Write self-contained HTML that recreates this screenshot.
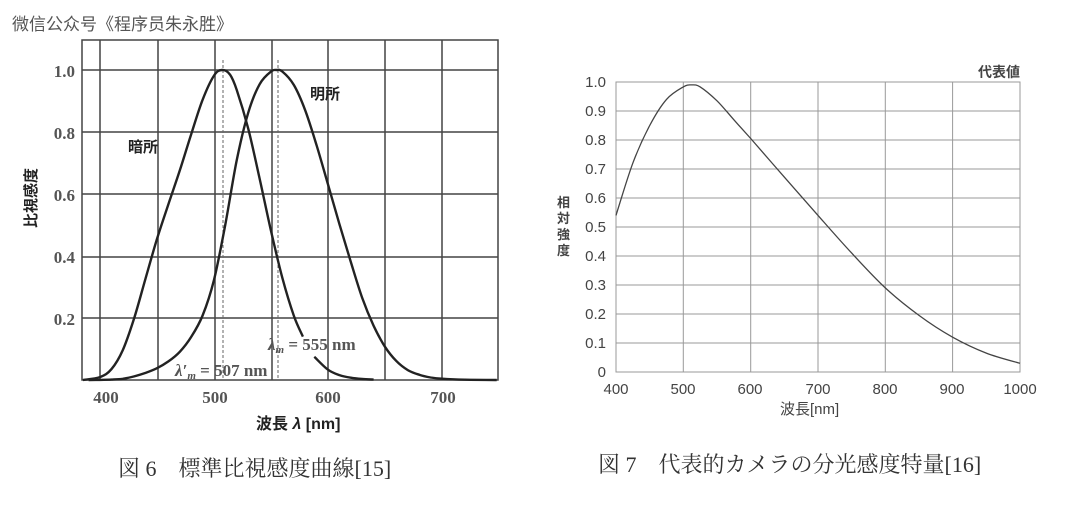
<!DOCTYPE html>
<html><head><meta charset="utf-8"><style>
body{margin:0;width:1080px;height:509px;background:#fff;overflow:hidden;position:relative;font-family:"Liberation Sans","Noto Sans CJK JP",sans-serif}
.t{position:absolute;white-space:nowrap}
</style></head><body>
<div class="t" style="left:12px;top:10px;font-size:17px;color:#555;font-family:'Noto Sans CJK SC',sans-serif">微信公众号《程序员朱永胜》</div>
<svg width="1080" height="509" style="position:absolute;left:0;top:0">
<g id="L" fill="none" stroke="#333" stroke-width="1.6"></g>
<g id="R" fill="none" stroke="#999" stroke-width="1"></g>
<g font-family="Liberation Serif,serif" font-weight="bold" font-size="17" fill="#555" text-anchor="end">
<text x="75" y="77">1.0</text><text x="75" y="139">0.8</text><text x="75" y="201">0.6</text><text x="75" y="263">0.4</text><text x="75" y="325">0.2</text>
</g>
<g font-family="Liberation Serif,serif" font-weight="bold" font-size="17" fill="#555" text-anchor="middle">
<text x="106" y="403">400</text><text x="215" y="403">500</text><text x="328" y="403">600</text><text x="443" y="403">700</text>
</g>
<text x="268" y="350" font-family="Liberation Serif,serif" font-size="17" fill="#555" font-weight="bold" font-style="italic">λ<tspan font-size="11" dy="3">m</tspan><tspan dy="-3" font-style="normal"> = 555 nm</tspan></text>
<text x="175" y="376" font-family="Liberation Serif,serif" font-size="17" fill="#555" font-weight="bold" font-style="italic">λ′<tspan font-size="11" dy="3">m</tspan><tspan dy="-3" font-style="normal"> = 507 nm</tspan></text>
<text transform="translate(36,198) rotate(-90)" text-anchor="middle" font-size="15" font-weight="bold" fill="#222" font-family="Liberation Sans,Noto Sans CJK JP,sans-serif">比視感度</text>
<g font-family="Liberation Sans,sans-serif" font-size="15" fill="#444" text-anchor="end">
<text x="606" y="87">1.0</text><text x="606" y="116">0.9</text><text x="606" y="145">0.8</text><text x="606" y="174">0.7</text><text x="606" y="203">0.6</text><text x="606" y="232">0.5</text><text x="606" y="261">0.4</text><text x="606" y="290">0.3</text><text x="606" y="319">0.2</text><text x="606" y="348">0.1</text><text x="606" y="377">0</text>
</g>
<g font-family="Liberation Sans,sans-serif" font-size="15" fill="#444" text-anchor="middle">
<text x="616" y="394">400</text><text x="683" y="394">500</text><text x="750" y="394">600</text><text x="818" y="394">700</text><text x="885" y="394">800</text><text x="952" y="394">900</text><text x="1020" y="394">1000</text>
</g>
</svg>
<div class="t" style="left:128px;top:136px;font-size:15px;font-weight:bold;color:#222">暗所</div>
<div class="t" style="left:310px;top:83px;font-size:15px;font-weight:bold;color:#222">明所</div>
<div class="t" style="left:256px;top:410px;font-size:16px;font-weight:bold;color:#222">波長 <i>λ</i> [nm]</div>
<div class="t" style="left:557px;top:195px;font-size:13px;font-weight:bold;color:#444;width:14px;white-space:normal;line-height:16px">相対強度</div>
<div class="t" style="left:978px;top:62px;font-size:14px;font-weight:bold;color:#444">代表値</div>
<div class="t" style="left:780px;top:398px;font-size:15px;color:#444">波長[nm]</div>
<div class="t" style="left:118px;top:452px;font-size:22px;color:#333;font-family:'Liberation Serif','Noto Serif CJK SC',serif">図 6　標準比視感度曲線[15]</div>
<div class="t" style="left:598px;top:448px;font-size:22px;color:#333;font-family:'Liberation Serif','Noto Serif CJK SC',serif">図 7　代表的カメラの分光感度特量[16]</div>
<script>
var NS='http://www.w3.org/2000/svg';
var L=document.getElementById('L'),R=document.getElementById('R');
function ln(g,a){var p=document.createElementNS(NS,'path');for(var k in a)p.setAttribute(k,a[k]);g.appendChild(p);}
function cr(P){var s='M'+P[0][0].toFixed(1)+' '+P[0][1].toFixed(1);for(var i=0;i<P.length-1;i++){var p0=P[i-1]||P[i],p1=P[i],p2=P[i+1],p3=P[i+2]||p2;
s+='C'+(p1[0]+(p2[0]-p0[0])/6).toFixed(1)+' '+(p1[1]+(p2[1]-p0[1])/6).toFixed(1)+' '+(p2[0]-(p3[0]-p1[0])/6).toFixed(1)+' '+(p2[1]-(p3[1]-p1[1])/6).toFixed(1)+' '+p2[0].toFixed(1)+' '+p2[1].toFixed(1);}return s;}
var d='M82 40H498V380H82Z';
[100,158,215,272,328,385,442].forEach(function(x){d+='M'+x+' 40V380';});
[70,132,194,257,318].forEach(function(y){d+='M82 '+y+'H498';});
ln(L,{d:d,'stroke-width':1.5,stroke:'#444'});
ln(L,{d:'M223 60V380M278 60V380','stroke-dasharray':'3 2','stroke-width':1,stroke:'#666'});
function X(w){return 100+(w-400)*1.14;}function Y(v){return 380-v*310;}
var ph=[[390,0],[400,.0004],[410,.0012],[420,.004],[430,.0116],[440,.023],[450,.038],[460,.06],[470,.091],[480,.139],[490,.208],[500,.323],[510,.503],[520,.71],[530,.862],[540,.954],[550,.995],[555,1],[560,.995],[570,.952],[580,.87],[590,.757],[600,.631],[610,.503],[620,.381],[630,.265],[640,.175],[650,.107],[660,.061],[670,.032],[680,.017],[690,.0082],[700,.0041],[720,.001],[748,0]];
var sc=[[385,0],[400,.0093],[410,.0348],[420,.0966],[430,.1998],[440,.3281],[450,.455],[460,.567],[470,.676],[480,.793],[490,.904],[500,.982],[507,1],[514,.985],[520,.935],[530,.811],[540,.65],[550,.481],[560,.3288],[570,.2076],[578,.14]];
var sc2=[[588,.075],[600,.0332],[610,.0159],[620,.0074],[630,.0033],[640,.0012]];
function m(a){return a.map(function(t){return [X(t[0]),Y(t[1])];});}
[ph,sc,sc2].forEach(function(a){ln(L,{d:cr(m(a)),'stroke-width':2.4,stroke:'#222'});});
d='M616 82H1020V372H616Z';
for(var i=1;i<6;i++){var x=616+i*67.33;d+='M'+x.toFixed(1)+' 82V372';}
for(var i=1;i<10;i++){var y=82+i*29;d+='M616 '+y+'H1020';}
ln(R,{d:d});
var pts=[[400,.54],[425,.72],[450,.85],[475,.94],[500,.983],[512,.99],[525,.983],[550,.935],[575,.87],[600,.805],[650,.672],[700,.54],[750,.41],[800,.29],[850,.195],[900,.12],[950,.065],[1000,.03]];
ln(R,{d:cr(pts.map(function(t){return [616+(t[0]-400)*0.6733,372-t[1]*290];})),stroke:'#444','stroke-width':1.3});
</script>
</body></html>
